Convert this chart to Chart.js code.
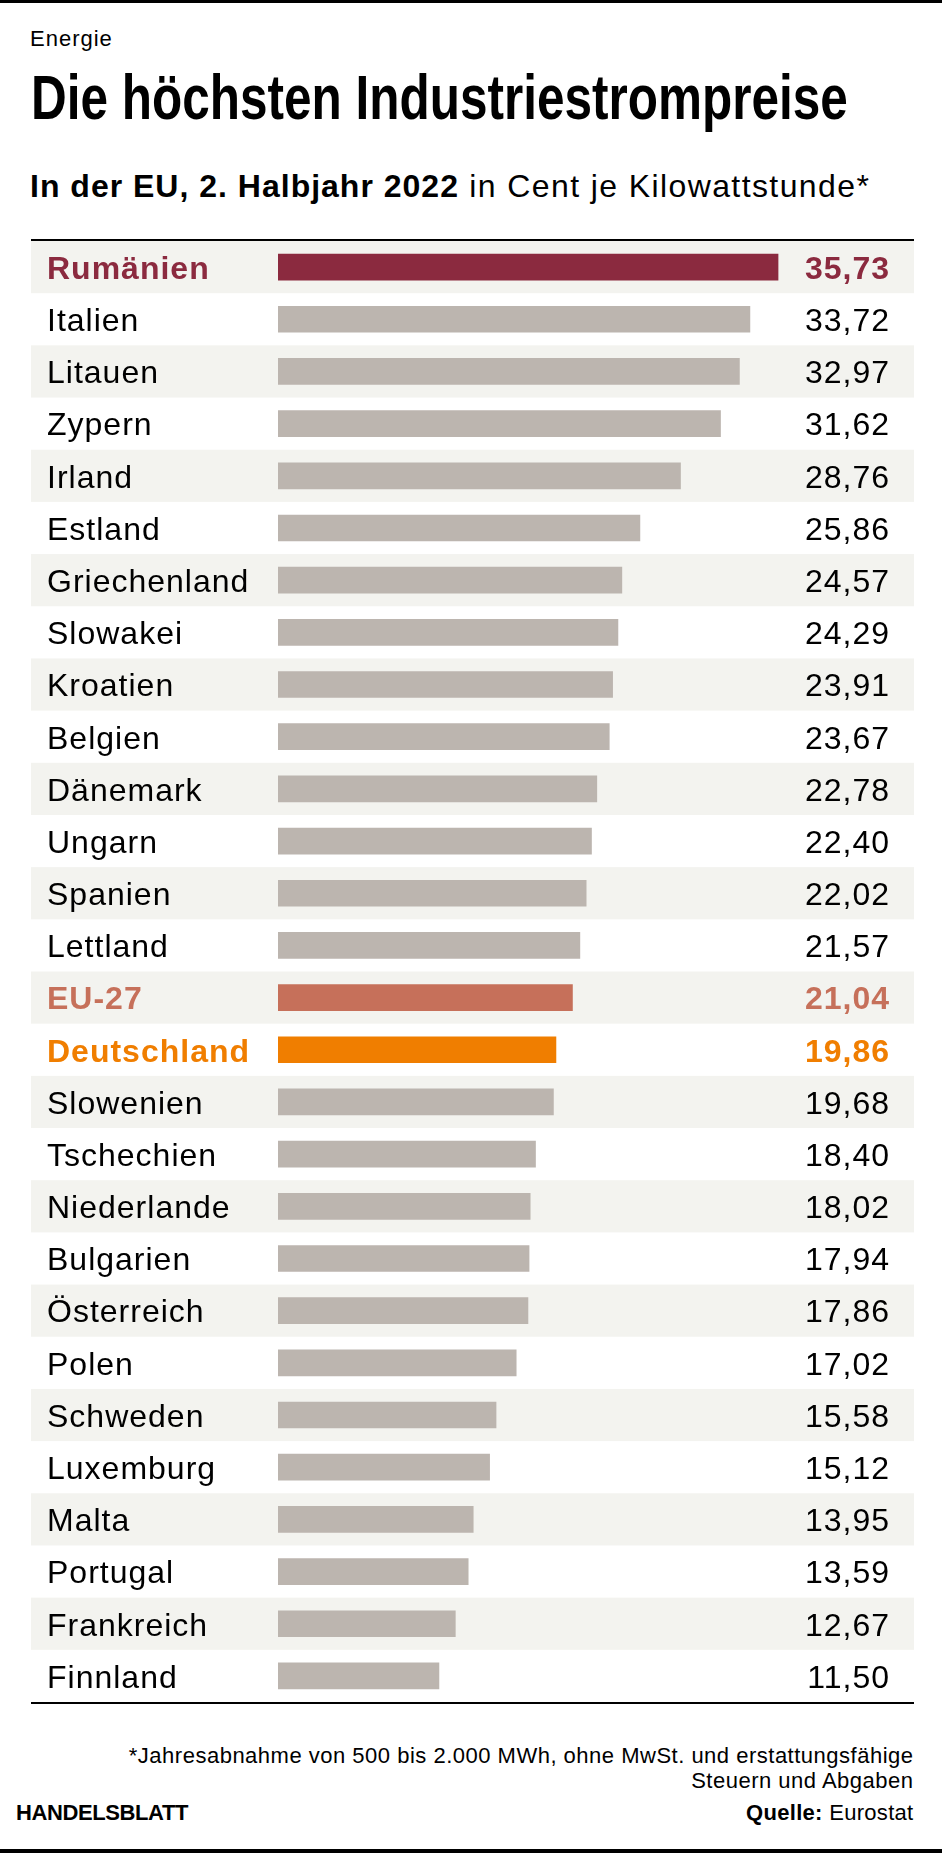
<!DOCTYPE html>
<html>
<head>
<meta charset="utf-8">
<script src="https://cdn.jsdelivr.net/npm/chart.js@4.4.1/dist/chart.umd.min.js"></script>
<style>
html,body{margin:0;padding:0;background:#fff;}
body{width:942px;height:1853px;position:relative;overflow:hidden;font-family:"Liberation Sans",Arial,sans-serif;color:#000;}
.abs{position:absolute;white-space:nowrap;}
#topbar{left:0;top:0;width:942px;height:3px;background:#000;}
#botbar{left:0;top:1849px;width:942px;height:4px;background:#000;}
#kicker{left:30px;top:28px;font-size:22px;line-height:22px;letter-spacing:1px;}
#title{left:31px;top:66px;font-size:63px;line-height:63px;font-weight:bold;transform-origin:0 0;}
#sub{left:30px;top:170px;font-size:32px;line-height:32px;letter-spacing:1px;}
#sub b{font-weight:bold;}
#sub span{letter-spacing:1.4px;}
#foot{right:28.5px;top:1743px;font-size:22px;line-height:25px;letter-spacing:0.5px;text-align:right;}
#brand{left:16px;top:1802px;font-size:22px;line-height:22px;font-weight:bold;letter-spacing:-0.4px;}
#source{right:28.5px;top:1802px;font-size:22px;line-height:22px;letter-spacing:0.3px;}
#source b{font-weight:bold;}
#chartbox{left:0;top:239px;width:942px;height:1466px;}
</style>
</head>
<body>
<div class="abs" id="topbar"></div>
<div class="abs" id="kicker">Energie</div>
<div class="abs" id="title">Die höchsten Industriestrompreise</div>
<div class="abs" id="sub"><b>In der EU, 2. Halbjahr 2022</b><span> in Cent je Kilowattstunde*</span></div>
<div class="abs" id="chartbox"><canvas id="c" width="942" height="1466"></canvas></div>
<div class="abs" id="foot">*Jahresabnahme von 500 bis 2.000 MWh, ohne MwSt. und erstattungsfähige<br>Steuern und Abgaben</div>
<div class="abs" id="brand">HANDELSBLATT</div>
<div class="abs" id="source"><b>Quelle:</b> Eurostat</div>
<div class="abs" id="botbar"></div>
<script>
// ---- data ----
const categories = ["Rumänien","Italien","Litauen","Zypern","Irland","Estland","Griechenland","Slowakei","Kroatien","Belgien","Dänemark","Ungarn","Spanien","Lettland","EU-27","Deutschland","Slowenien","Tschechien","Niederlande","Bulgarien","Österreich","Polen","Schweden","Luxemburg","Malta","Portugal","Frankreich","Finnland"];
const values = [35.73,33.72,32.97,31.62,28.76,25.86,24.57,24.29,23.91,23.67,22.78,22.40,22.02,21.57,21.04,19.86,19.68,18.40,18.02,17.94,17.86,17.02,15.58,15.12,13.95,13.59,12.67,11.50];
const highlighted = ["Rumänien","EU-27","Deutschland"];

// ---- styles ----
const highlightColor = {"Rumänien":"#8b2a3f","EU-27":"#c6705a","Deutschland":"#f07e00"};
const barGray = "#bcb5af";
const bandColor = "#f3f3ef";
const FONT = "'Liberation Sans', Arial, sans-serif";
const TEXT_SHIFT = 3;

// title fit
(function(){
  const t = document.getElementById('title');
  const w = t.offsetWidth;
  t.style.transform = 'scaleX(' + (817 / w) + ')';
})();

const isHl = c => highlighted.includes(c);
const colorOf = c => isHl(c) ? highlightColor[c] : barGray;
const textColorOf = c => isHl(c) ? highlightColor[c] : "#000";
const fmt = v => v.toFixed(2).replace('.', ',');

const bandPlugin = {
  id: 'bands',
  beforeDraw(chart) {
    const {ctx, chartArea, scales: {y}} = chart;
    const h = chartArea.height / categories.length;
    ctx.save();
    ctx.fillStyle = bandColor;
    categories.forEach((c, i) => {
      if (i % 2 === 0) {
        const yc = y.getPixelForValue(i);
        ctx.fillRect(31, yc - h / 2, 883, h);
      }
    });
    ctx.fillStyle = "#000";
    ctx.fillRect(31, chartArea.top - 2, 883, 2);
    ctx.fillRect(31, chartArea.bottom, 883, 2);
    ctx.restore();
    ctx.letterSpacing = '1px';
  }
};

const valuePlugin = {
  id: 'values',
  afterDatasetsDraw(chart) {
    const {ctx, scales: {y}} = chart;
    ctx.save();
    ctx.letterSpacing = '1px';
    ctx.textAlign = 'right';
    ctx.textBaseline = 'middle';
    categories.forEach((c, i) => {
      ctx.font = (isHl(c) ? 'bold ' : '') + '32px ' + FONT;
      ctx.fillStyle = textColorOf(c);
      ctx.fillText(fmt(values[i]), 890, y.getPixelForValue(i) + TEXT_SHIFT);
    });
    ctx.restore();
  }
};

new Chart(document.getElementById('c'), {
  type: 'bar',
  data: {
    labels: categories,
    datasets: [{
      data: values,
      backgroundColor: categories.map(colorOf),
      borderWidth: 0,
      barThickness: 26
    }]
  },
  options: {
    indexAxis: 'y',
    responsive: false,
    animation: false,
    devicePixelRatio: 1,
    layout: { padding: { left: 47, right: 104.2, top: 2, bottom: 3 } },
    plugins: { legend: { display: false }, tooltip: { enabled: false } },
    scales: {
      x: { display: false, min: 0, max: 40 },
      y: {
        position: 'left',
        grid: { display: false, drawTicks: false },
        border: { display: false },
        afterFit: s => { s.width = 231; s.paddingTop = 0; s.paddingBottom = 0; },
        ticks: {
          autoSkip: false,
          crossAlign: 'far',
          padding: 0,
          labelOffset: TEXT_SHIFT,
          color: ctx => textColorOf(categories[ctx.index]),
          font: ctx => ({ family: FONT, size: 32, lineHeight: 1, weight: isHl(categories[ctx.index]) ? 'bold' : 'normal' })
        }
      }
    }
  },
  plugins: [bandPlugin, valuePlugin]
});
</script>
</body>
</html>
